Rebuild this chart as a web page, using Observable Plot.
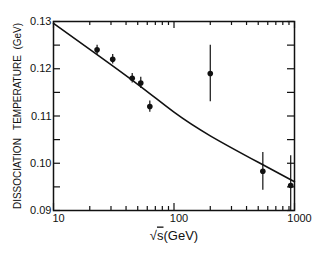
<!DOCTYPE html>
<html><head><meta charset="utf-8">
<script src="https://cdn.jsdelivr.net/npm/d3@7"></script>
<script src="https://cdn.jsdelivr.net/npm/@observablehq/plot@0.6"></script>
<style>
body{margin:0;background:#fff;}
svg{font-family:"Liberation Sans",Arial,sans-serif;}
</style></head>
<body><div id="chart"></div>
<script>
const energies = [23, 31, 45, 53, 63, 200, 546, 930];
const temps = [0.124, 0.122, 0.118, 0.117, 0.112, 0.119, 0.0983, 0.0953];
const errs = [0.001, 0.001, 0.001, 0.0012, 0.0012, 0.006, 0.004, 0.0063];
const curveE = [10, 20, 50, 100, 200, 500, 1000];
const curveT = [0.1296, 0.1241, 0.1167, 0.1108, 0.1058, 0.1002, 0.0961];
const majorX = [10, 100, 1000];
const minorX = [20,30,40,50,60,70,80,90,200,300,400,500,600,700,800,900];
const yTicks = [0.09,0.095,0.10,0.105,0.11,0.115,0.12,0.125,0.13];
const yLabels = [0.09,0.10,0.11,0.12,0.13];

const W = 314, Ht = 255, mL = 53, mR = 20, mT = 21, mB = 45;
const fh = Ht - mT - mB, fw = W - mL - mR;
const pts = energies.map((e,i)=>({e, t: temps[i], lo: temps[i]-errs[i], hi: temps[i]+errs[i]}));
const curve = curveE.map((e,i)=>({e, t: curveT[i]}));

const chart = Plot.plot({
  width: W, height: Ht, marginLeft: mL, marginRight: mR, marginTop: mT, marginBottom: mB,
  style: {fontFamily: '"Liberation Sans",Arial,sans-serif', color: "#111"},
  x: {type: "log", domain: [10, 1000]},
  y: {domain: [0.09, 0.13]},
  marks: [
    Plot.frame({strokeWidth: 1.5, stroke: "#111"}),
    Plot.tickX(majorX, {x: d=>d, insetTop: fh-7, strokeWidth: 1.2, stroke: "#111"}),
    Plot.tickX(majorX, {x: d=>d, insetBottom: fh-7, strokeWidth: 1.2, stroke: "#111"}),
    Plot.tickX(minorX, {x: d=>d, insetTop: fh-4, strokeWidth: 1.2, stroke: "#111"}),
    Plot.tickX(minorX, {x: d=>d, insetBottom: fh-4, strokeWidth: 1.2, stroke: "#111"}),
    Plot.tickY(yTicks, {y: d=>d, insetRight: fw-7, strokeWidth: 1.2, stroke: "#111"}),
    Plot.tickY(yTicks, {y: d=>d, insetLeft: fw-7, strokeWidth: 1.2, stroke: "#111"}),
    Plot.axisX({ticks: majorX, tickSize: 0, tickPadding: 4, tickFormat: d=>String(d), fontSize: 11, dx: 5,
      label: "√s(GeV)", labelAnchor: "center", labelArrow: "none", labelOffset: 29}),
    Plot.axisY({ticks: yLabels, tickSize: 0, tickPadding: 2, tickFormat: d3.format(".2f"), fontSize: 11,
      label: "DISSOCIATION\u00a0\u00a0 TEMPERATURE\u00a0 (GeV)", labelAnchor: "center", labelArrow: "none", labelOffset: 40}),
    Plot.line(curve, {x: "e", y: "t", curve: "natural", strokeWidth: 1.6, stroke: "#111"}),
    Plot.ruleX(pts, {x: "e", y1: "lo", y2: "hi", strokeWidth: 1.2, stroke: "#111", clip: true}),
    Plot.dot(pts, {x: "e", y: "t", r: 2.8, fill: "#111", stroke: "none"})
  ]
});
document.getElementById("chart").appendChild(chart);
d3.select(chart).selectAll("g[aria-label='y-axis label'] text").style("font-size","10px");
const xl = d3.select(chart).selectAll("g[aria-label='x-axis label'] text").style("font-size","13px");
xl.each(function(){
  const t = d3.select(this);
  t.text(null);
  t.append("tspan").text("√");
  t.append("tspan").style("text-decoration","overline").text("s");
  t.append("tspan").text("(GeV)");
});
</script></body></html>
